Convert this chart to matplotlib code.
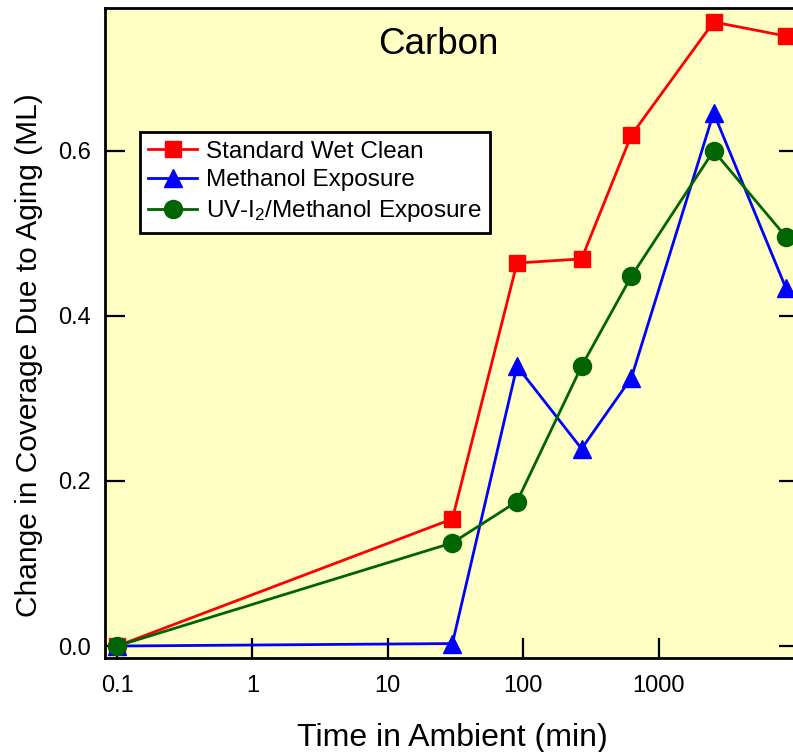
import matplotlib
matplotlib.use("Agg")
import matplotlib.pyplot as plt
from matplotlib.ticker import FixedLocator, NullLocator, FixedFormatter

plt.rcParams['font.family'] = ['Liberation Sans', 'DejaVu Sans']
plt.rcParams['mathtext.fontset'] = 'custom'
plt.rcParams['mathtext.rm'] = 'Liberation Sans'
plt.rcParams['mathtext.it'] = 'Liberation Sans:italic'
plt.rcParams['mathtext.bf'] = 'Liberation Sans:bold'

time_min = [0.1, 30, 90, 270, 630, 2550, 8700]
standard_wet_clean = [0.0, 0.154, 0.464, 0.469, 0.619, 0.756, 0.739]
methanol_exposure = [0.0, 0.003, 0.339, 0.239, 0.325, 0.646, 0.434]
uv_i2_methanol = [0.0, 0.125, 0.175, 0.339, 0.448, 0.600, 0.496]

x_ticks = [0.1, 1, 10, 100, 1000]
x_tick_labels = ["0.1", "1", "10", "100", "1000"]
y_ticks = [0.0, 0.2, 0.4, 0.6]
y_tick_labels = ["0.0", "0.2", "0.4", "0.6"]

fig = plt.figure(figsize=(7.93, 7.52), dpi=100)
ax = fig.add_axes([0.1324, 0.125, 0.8752, 0.8644])
ax.set_facecolor('#FFFFC4')

ax.plot(time_min, standard_wet_clean, color='#FF0000', lw=2, marker='s', ms=12,
        label='Standard Wet Clean', zorder=3)
ax.plot(time_min, methanol_exposure, color='#0000FF', lw=2, marker='^', ms=12.5,
        label='Methanol Exposure', zorder=4)
ax.plot(time_min, uv_i2_methanol, color='#006400', lw=2, marker='o', ms=13,
        label=r'UV-I$_\mathregular{2}$/Methanol Exposure', zorder=5)

ax.set_xscale('log')
ax.set_xlim(0.0815, 10900)
ax.set_ylim(-0.0145, 0.773)
ax.xaxis.set_major_locator(FixedLocator(x_ticks))
ax.xaxis.set_major_formatter(FixedFormatter(x_tick_labels))
ax.xaxis.set_minor_locator(NullLocator())
ax.yaxis.set_major_locator(FixedLocator(y_ticks))
ax.yaxis.set_major_formatter(FixedFormatter(y_tick_labels))

ax.tick_params(axis='both', which='major', direction='in', length=14.5, width=1.6,
               labelsize=17, top=False, right=True)
ax.tick_params(axis='y', pad=10)
ax.tick_params(axis='x', pad=12)
for s in ax.spines.values():
    s.set_linewidth(2)

ax.set_xlabel('Time in Ambient (min)', fontsize=23, labelpad=19)
ax.set_ylabel('Change in Coverage Due to Aging (ML)', fontsize=21.5)
ax.yaxis.set_label_coords(-0.0893, 0.466)
ax.text(0.48, 0.944, 'Carbon', transform=ax.transAxes, ha='center', va='center',
        fontsize=26.5)

leg = ax.legend(loc='upper left', bbox_to_anchor=(0.0504, 0.809), fontsize=17.5,
                frameon=True, fancybox=False, edgecolor='black', framealpha=1,
                facecolor='white', borderpad=0.35, labelspacing=0.28,
                handlelength=2.0, handletextpad=0.37, borderaxespad=0)
leg.get_frame().set_linewidth(2)

fig.savefig('out.png', dpi=100)
